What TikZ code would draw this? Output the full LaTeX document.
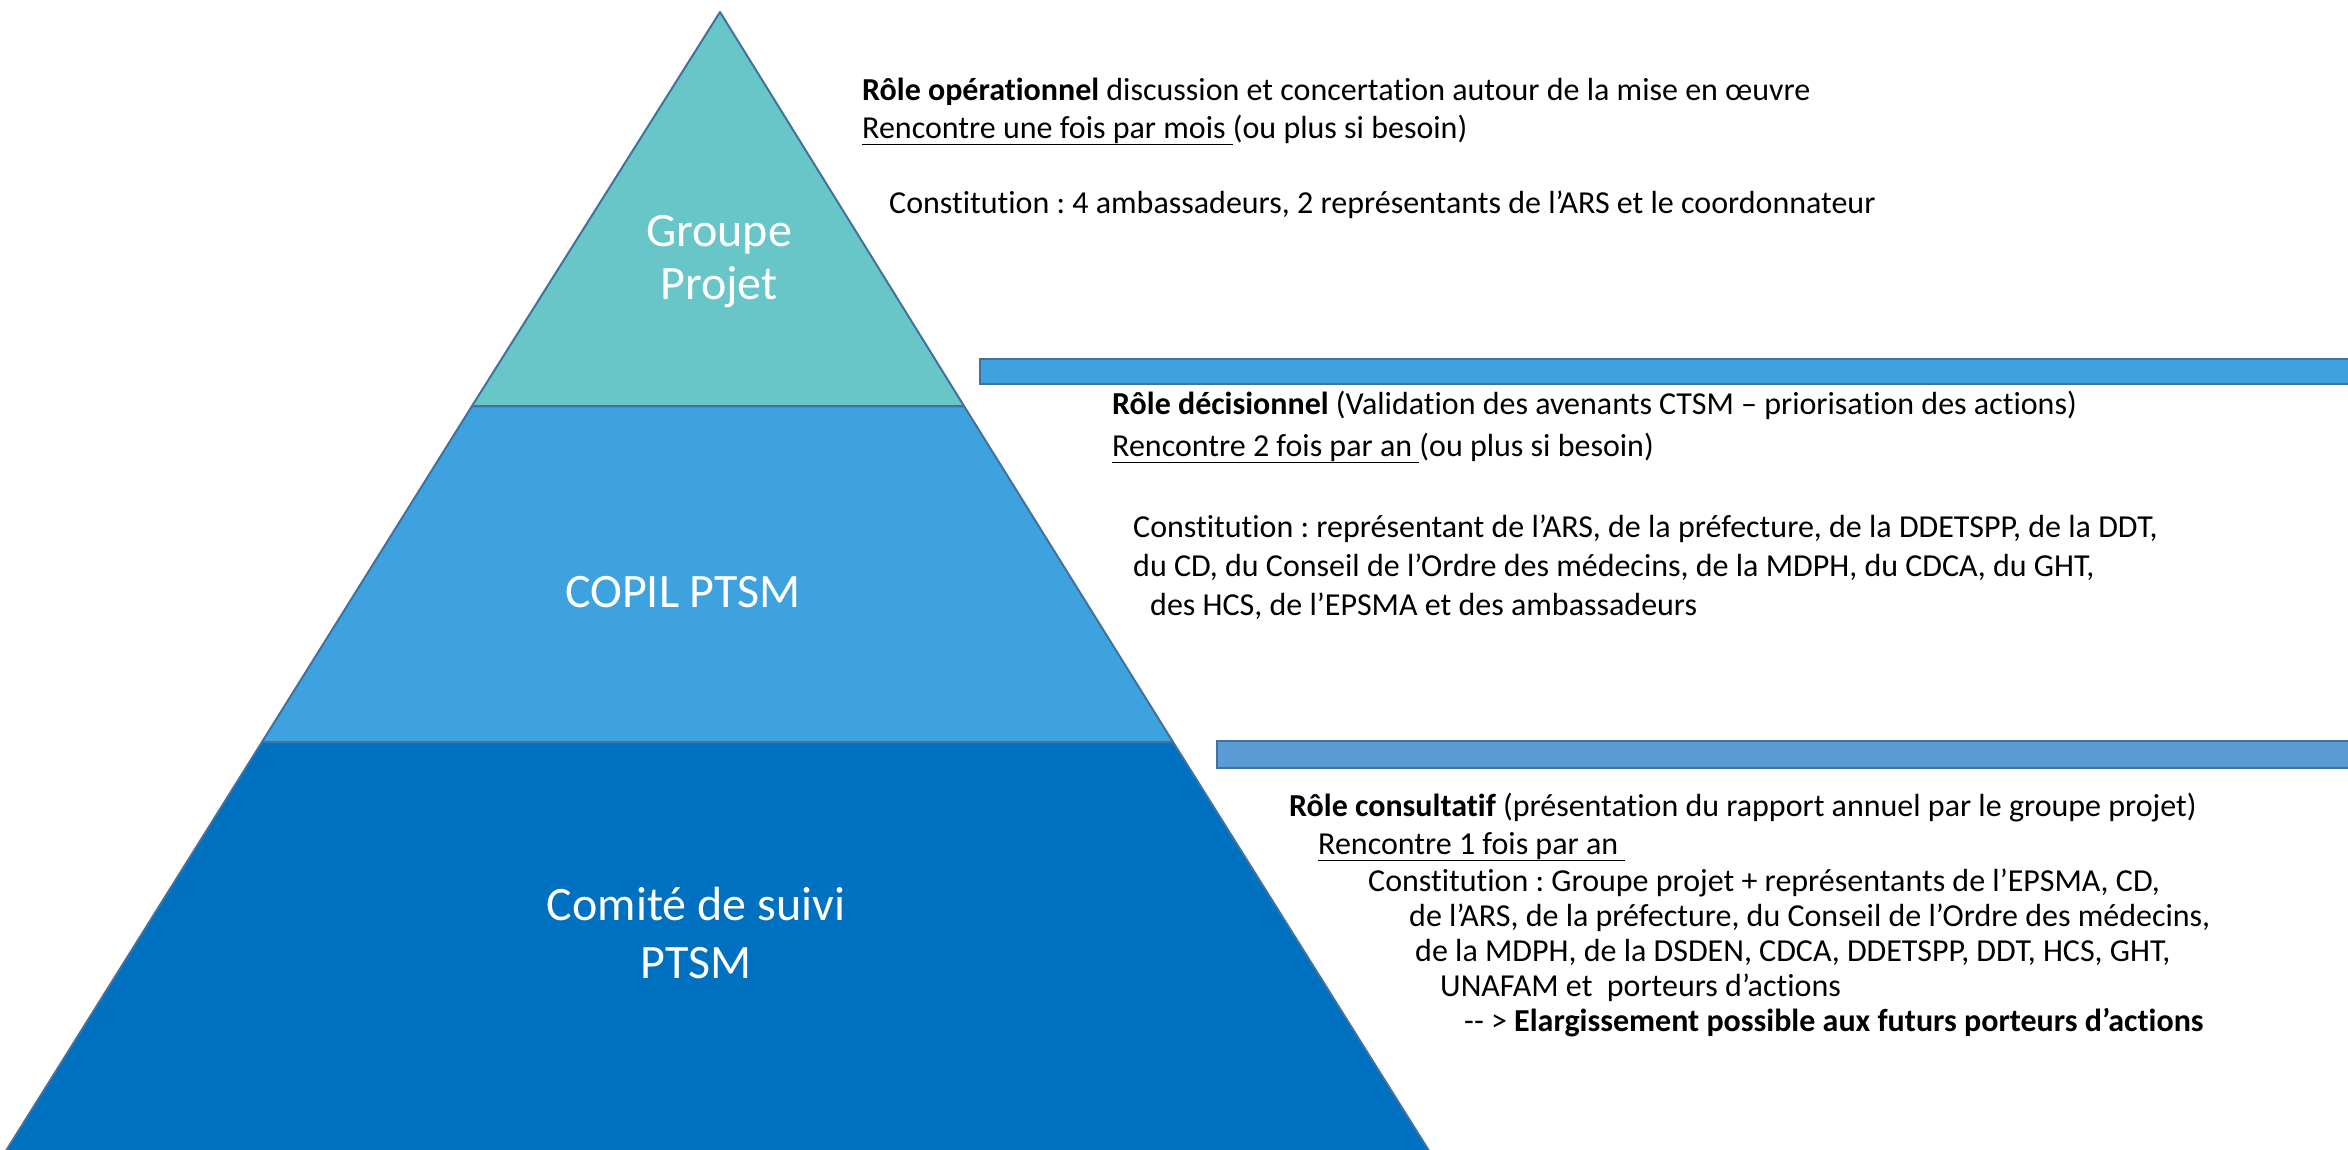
\documentclass[tikz,border=0pt]{standalone}
\usepackage{fontspec}
\setmainfont{Carlito}[Ligatures={NoCommon}]
\frenchspacing
\definecolor{tierA}{HTML}{68C6C8}
\definecolor{tierB}{HTML}{3EA2DF}
\definecolor{tierC}{HTML}{0070C0}
\definecolor{edgeC}{HTML}{41719C}
\definecolor{barB}{HTML}{5B9BD5}
\begin{document}
\begin{tikzpicture}[x=1pt,y=-1pt,
  tier/.style={draw=edgeC, line width=2pt, line join=round},
  barbox/.style={draw=edgeC, line width=2pt},
  body/.style={anchor=base west, inner sep=0pt, font=\fontsize{32}{38}\selectfont, text=black},
  tierlabel/.style={anchor=base, inner sep=0pt, text=white, font=\fontsize{48}{58}\selectfont}]
\useasboundingbox (0,0) rectangle (2348,1149);
% pyramid corners
\coordinate (apex) at (720,12);
\coordinate (l1) at (472,406); \coordinate (r1) at (964,406);
\coordinate (l2) at (262,742); \coordinate (r2) at (1173,742);
\coordinate (l3) at (4,1154);  \coordinate (r3) at (1431,1154);
\draw[tier, fill=tierC] (l2) -- (r2) -- (r3) -- (l3) -- cycle;
\draw[tier, fill=tierB] (l1) -- (r1) -- (r2) -- (l2) -- cycle;
\draw[tier, fill=tierA] (apex) -- (r1) -- (l1) -- cycle;
% bars
\draw[barbox, fill=tierB] (980,359) rectangle (2360,384);
\draw[barbox, fill=barB] (1217,741) rectangle (2360,768);
% tier labels
\node[tierlabel] (gp1) at (719,246) {Groupe};
\node[tierlabel] (gp2) at (719,299) {Projet};
\node[tierlabel] (copil) at (683,607) {COPIL PTSM};
\node[tierlabel] (cs1) at (696,920) {Comité de suivi};
\node[tierlabel] (cs2) at (696,978) {PTSM};
% block 1
\node[body] (op1) at (862,100) {\textbf{Rôle opérationnel} discussion et concertation autour de la mise en œuvre};
\node[body] (op2) at (862,138) {\underline{Rencontre une fois par mois }(ou plus si besoin)};
\node[body] (op3) at (889,213) {Constitution : 4 ambassadeurs, 2 représentants de l’ARS et le coordonnateur};
% block 2
\node[body] (de1) at (1112,414) {\textbf{Rôle décisionnel} (Validation des avenants CTSM – priorisation des actions)};
\node[body] (de2) at (1112,456) {\underline{Rencontre 2 fois par an }(ou plus si besoin)};
\node[body] (de3) at (1133,537) {Constitution : représentant de l’ARS, de la préfecture, de la DDETSPP, de la DDT,};
\node[body] (de4) at (1133,576) {du CD, du Conseil de l’Ordre des médecins, de la MDPH, du CDCA, du GHT,};
\node[body] (de5) at (1150,615) {des HCS, de l’EPSMA et des ambassadeurs};
% block 3
\node[body] (co1) at (1289,816) {\textbf{Rôle consultatif} (présentation du rapport annuel par le groupe projet)};
\node[body] (co2) at (1318,854) {\underline{Rencontre 1 fois par an }};
\node[body] (co3) at (1368,891) {Constitution : Groupe projet + représentants de l’EPSMA, CD,};
\node[body] (co4) at (1409,926) {de l’ARS, de la préfecture, du Conseil de l’Ordre des médecins,};
\node[body] (co5) at (1415,961) {de la MDPH, de la DSDEN, CDCA, DDETSPP, DDT, HCS, GHT,};
\node[body] (co6) at (1440,996) {UNAFAM et\ \ porteurs d’actions};
\node[body] (co7) at (1464,1031) {-{}- > \textbf{Elargissement possible aux futurs porteurs d’actions}};
\end{tikzpicture}
\end{document}
